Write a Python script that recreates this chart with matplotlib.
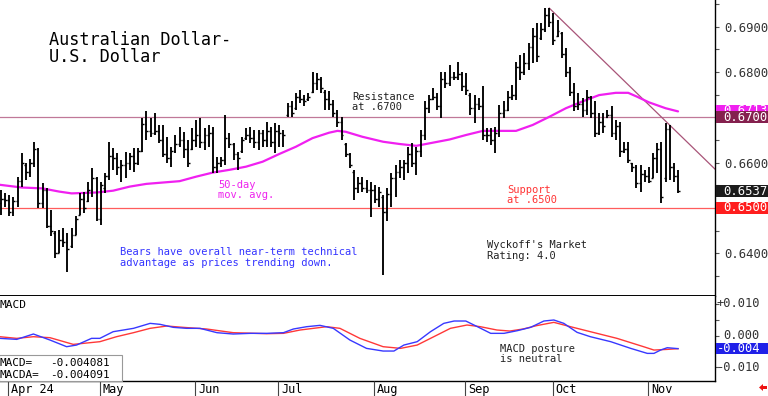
import matplotlib
matplotlib.use("Agg")
import matplotlib.pyplot as plt
import matplotlib.transforms as mtransforms
from matplotlib.patches import Rectangle, Polygon
from matplotlib.ticker import MultipleLocator
import numpy as np
import pandas as pd

W, H = 768, 396
MONO = "DejaVu Sans Mono"

# ---------------- data ----------------
dates = pd.bdate_range("2024-03-28", "2024-11-12")

highs = [
    0.6540, 0.6532, 0.6528, 0.6525, 0.6569, 0.6621, 0.6598, 0.6609, 0.6646, 0.6632,
    0.6554, 0.6543, 0.6495, 0.6448, 0.6451, 0.6455, 0.6444, 0.6455, 0.6481, 0.6532,
    0.6536, 0.6558, 0.6587, 0.6569, 0.6558, 0.6576, 0.6646, 0.6632, 0.6621, 0.6606,
    0.6624, 0.6621, 0.6632, 0.6632, 0.6698, 0.6713, 0.6698, 0.6709, 0.6683, 0.6683,
    0.6657, 0.6635, 0.6661, 0.6679, 0.6668, 0.6650, 0.6676, 0.6694, 0.6698, 0.6676,
    0.6683, 0.6679, 0.6613, 0.6613, 0.6705, 0.6665, 0.6643, 0.6624, 0.6657, 0.6676,
    0.6679, 0.6672, 0.6672, 0.6672, 0.6690, 0.6679, 0.6687, 0.6683, 0.6672, 0.6731,
    0.6735, 0.6753, 0.6760, 0.6749, 0.6753, 0.6801, 0.6797, 0.6790, 0.6760, 0.6757,
    0.6738, 0.6716, 0.6701, 0.6643, 0.6621, 0.6584, 0.6569, 0.6569, 0.6562, 0.6557,
    0.6551, 0.6547, 0.6529, 0.6543, 0.6576, 0.6595, 0.6606, 0.6606, 0.6635, 0.6643,
    0.6635, 0.6672, 0.6735, 0.6749, 0.6764, 0.6753, 0.6801, 0.6801, 0.6816, 0.6801,
    0.6823, 0.6801, 0.6797, 0.6753, 0.6749, 0.6742, 0.6768, 0.6676, 0.6676, 0.6679,
    0.6727, 0.6735, 0.6757, 0.6771, 0.6823, 0.6838, 0.6841, 0.6863, 0.6896, 0.6908,
    0.6908, 0.6941, 0.6941, 0.6930, 0.6915, 0.6889, 0.6852, 0.6812, 0.6775, 0.6753,
    0.6742, 0.6760, 0.6746, 0.6735, 0.6709, 0.6709, 0.6716, 0.6724, 0.6694, 0.6690,
    0.6646, 0.6646, 0.6598, 0.6595, 0.6595, 0.6584, 0.6591, 0.6621, 0.6643, 0.6646,
    0.6687, 0.6683, 0.6598, 0.6584,
]
lows = [
    0.6485, 0.6503, 0.6481, 0.6481, 0.6503, 0.6547, 0.6562, 0.6569, 0.6591, 0.6499,
    0.6499, 0.6455, 0.6437, 0.6389, 0.6400, 0.6414, 0.6359, 0.6411, 0.6440, 0.6484,
    0.6488, 0.6514, 0.6525, 0.6470, 0.6462, 0.6532, 0.6562, 0.6584, 0.6573, 0.6558,
    0.6565, 0.6584, 0.6580, 0.6595, 0.6624, 0.6650, 0.6657, 0.6661, 0.6643, 0.6613,
    0.6598, 0.6591, 0.6621, 0.6635, 0.6610, 0.6591, 0.6628, 0.6635, 0.6632, 0.6628,
    0.6635, 0.6576, 0.6576, 0.6591, 0.6595, 0.6632, 0.6606, 0.6584, 0.6621, 0.6650,
    0.6643, 0.6632, 0.6628, 0.6635, 0.6635, 0.6635, 0.6621, 0.6635, 0.6635, 0.6701,
    0.6701, 0.6716, 0.6731, 0.6724, 0.6735, 0.6753, 0.6760, 0.6753, 0.6716, 0.6716,
    0.6701, 0.6679, 0.6650, 0.6613, 0.6587, 0.6517, 0.6532, 0.6536, 0.6532, 0.6480,
    0.6510, 0.6503, 0.6352, 0.6470, 0.6503, 0.6525, 0.6565, 0.6562, 0.6576, 0.6591,
    0.6573, 0.6613, 0.6650, 0.6709, 0.6738, 0.6716, 0.6698, 0.6764, 0.6768, 0.6782,
    0.6782, 0.6757, 0.6749, 0.6705, 0.6687, 0.6716, 0.6650, 0.6646, 0.6639, 0.6621,
    0.6657, 0.6698, 0.6713, 0.6738, 0.6738, 0.6782, 0.6793, 0.6804, 0.6819, 0.6823,
    0.6871, 0.6889, 0.6900, 0.6860, 0.6878, 0.6830, 0.6790, 0.6746, 0.6713, 0.6716,
    0.6701, 0.6705, 0.6698, 0.6657, 0.6661, 0.6665, 0.6698, 0.6657, 0.6650, 0.6613,
    0.6621, 0.6598, 0.6580, 0.6543, 0.6536, 0.6558, 0.6554, 0.6565, 0.6576, 0.6510,
    0.6558, 0.6562, 0.6558, 0.6532,
]
opens = [
    0.6510, 0.6520, 0.6518, 0.6490, 0.6515, 0.6560, 0.6595, 0.6580, 0.6600, 0.6630,
    0.6510, 0.6540, 0.6460, 0.6445, 0.6400, 0.6430, 0.6425, 0.6415, 0.6440, 0.6485,
    0.6520, 0.6515, 0.6540, 0.6565, 0.6475, 0.6545, 0.6570, 0.6615, 0.6610, 0.6590,
    0.6595, 0.6600, 0.6615, 0.6600, 0.6625, 0.6685, 0.6670, 0.6665, 0.6670, 0.6650,
    0.6620, 0.6610, 0.6625, 0.6640, 0.6650, 0.6630, 0.6630, 0.6650, 0.6660, 0.6645,
    0.6660, 0.6665, 0.6590, 0.6600, 0.6605, 0.6655, 0.6640, 0.6620, 0.6625, 0.6655,
    0.6660, 0.6655, 0.6645, 0.6665, 0.6650, 0.6670, 0.6645, 0.6670, 0.6665, 0.6705,
    0.6725, 0.6720, 0.6745, 0.6740, 0.6740, 0.6755, 0.6775, 0.6785, 0.6755, 0.6740,
    0.6730, 0.6710, 0.6690, 0.6640, 0.6620, 0.6580, 0.6545, 0.6555, 0.6545, 0.6540,
    0.6540, 0.6520, 0.6525, 0.6490, 0.6530, 0.6565, 0.6580, 0.6590, 0.6600, 0.6620,
    0.6600, 0.6625, 0.6660, 0.6720, 0.6740, 0.6745, 0.6725, 0.6785, 0.6775, 0.6790,
    0.6790, 0.6795, 0.6770, 0.6750, 0.6720, 0.6730, 0.6725, 0.6660, 0.6660, 0.6650,
    0.6665, 0.6710, 0.6715, 0.6745, 0.6750, 0.6810, 0.6800, 0.6820, 0.6855, 0.6880,
    0.6875, 0.6895, 0.6925, 0.6910, 0.6880, 0.6885, 0.6840, 0.6800, 0.6755, 0.6725,
    0.6730, 0.6715, 0.6745, 0.6710, 0.6665, 0.6690, 0.6700, 0.6705, 0.6665, 0.6680,
    0.6625, 0.6630, 0.6598, 0.6590, 0.6555, 0.6575, 0.6570, 0.6565, 0.6610, 0.6630,
    0.6565, 0.6675, 0.6590, 0.6570,
]
closes = [
    0.6520, 0.6518, 0.6490, 0.6515, 0.6560, 0.6600, 0.6580, 0.6600, 0.6630, 0.6510,
    0.6540, 0.6460, 0.6450, 0.6400, 0.6430, 0.6425, 0.6410, 0.6440, 0.6475, 0.6520,
    0.6500, 0.6540, 0.6565, 0.6475, 0.6550, 0.6570, 0.6615, 0.6610, 0.6590, 0.6595,
    0.6600, 0.6615, 0.6600, 0.6625, 0.6685, 0.6670, 0.6665, 0.6670, 0.6650, 0.6620,
    0.6610, 0.6625, 0.6640, 0.6650, 0.6630, 0.6600, 0.6650, 0.6660, 0.6645, 0.6660,
    0.6665, 0.6590, 0.6600, 0.6605, 0.6655, 0.6640, 0.6620, 0.6610, 0.6650, 0.6660,
    0.6655, 0.6645, 0.6665, 0.6650, 0.6670, 0.6645, 0.6670, 0.6665, 0.6660, 0.6725,
    0.6710, 0.6745, 0.6740, 0.6735, 0.6745, 0.6775, 0.6785, 0.6765, 0.6740, 0.6730,
    0.6710, 0.6690, 0.6660, 0.6620, 0.6595, 0.6545, 0.6555, 0.6545, 0.6540, 0.6540,
    0.6520, 0.6535, 0.6490, 0.6530, 0.6565, 0.6580, 0.6590, 0.6600, 0.6620, 0.6600,
    0.6625, 0.6660, 0.6720, 0.6740, 0.6745, 0.6725, 0.6785, 0.6775, 0.6790, 0.6790,
    0.6795, 0.6770, 0.6760, 0.6720, 0.6730, 0.6725, 0.6660, 0.6660, 0.6650, 0.6665,
    0.6710, 0.6715, 0.6745, 0.6750, 0.6810, 0.6800, 0.6820, 0.6855, 0.6880, 0.6835,
    0.6895, 0.6925, 0.6910, 0.6870, 0.6890, 0.6840, 0.6800, 0.6755, 0.6725, 0.6730,
    0.6715, 0.6745, 0.6710, 0.6665, 0.6690, 0.6680, 0.6705, 0.6665, 0.6680, 0.6625,
    0.6630, 0.6605, 0.6590, 0.6555, 0.6575, 0.6570, 0.6560, 0.6610, 0.6630, 0.6525,
    0.6675, 0.6590, 0.6570, 0.6537,
]

# 50-day moving average, read at sample bars
ma50_idx = [-0.3, 5, 10, 14, 17, 23, 27, 31, 35, 39, 43, 47, 51, 55, 59, 63, 67, 71,
            75, 79, 81, 83, 87, 92, 96, 100, 104, 108, 112, 116, 120, 124, 128, 132,
            136, 140, 144, 148, 151, 153, 156, 160, 163]
ma50_val = [0.6551, 0.6545, 0.6543, 0.6536, 0.6532, 0.6534, 0.6538, 0.6547, 0.6553,
            0.6556, 0.6559, 0.6569, 0.6578, 0.6584, 0.6591, 0.6602, 0.6619, 0.6635,
            0.6654, 0.6666, 0.6670, 0.6668, 0.6657, 0.6646, 0.6641, 0.6637, 0.6644,
            0.6651, 0.6661, 0.6670, 0.6670, 0.6670, 0.6683, 0.6701, 0.6720, 0.6735,
            0.6749, 0.6754, 0.6754, 0.6746, 0.6733, 0.6720, 0.6713]

# MACD and its signal line (MACDA), read at sample bars
macd_idx = [-0.3, 3.8, 7.8, 11.8, 15.8, 18.2, 21.8, 23.8, 27.0, 31.9, 35.9, 38.3, 41.5,
            44.7, 47.9, 52.0, 55.9, 60.0, 64.0, 68.0, 70.4, 73.6, 76.8, 80.0, 84.0,
            88.0, 92.0, 94.6, 97.0, 100.2, 103.4, 106.6, 109.1, 111.9, 114.7, 117.9,
            121.1, 124.3, 127.5, 130.7, 133.1, 135.5, 138.7, 141.9, 146.8, 151.6,
            155.6, 157.2, 158.8, 160.4, 163.0]
macd_val = [-0.00084, -0.00116, 0.00053, -0.00137, -0.00347, -0.00295, -0.00084,
            -0.00084, 0.00126, 0.00232, 0.00389, 0.00358, 0.00263, 0.00232, 0.00232,
            0.00095, 0.00053, 0.00074, 0.00074, 0.00095, 0.00211, 0.00284, 0.00326,
            0.00232, -0.00137, -0.00400, -0.00484, -0.00484, -0.00295, -0.00189,
            0.00126, 0.00389, 0.00463, 0.00463, 0.00284, 0.00074, 0.00074, 0.00158,
            0.00263, 0.00463, 0.00495, 0.00389, 0.00105, -0.00032, -0.00189,
            -0.00400, -0.00558, -0.00558, -0.00453, -0.00379, -0.004081]
signal_idx = [-0.3, 3.8, 7.8, 11.8, 17.4, 23.8, 27.8, 31.9, 35.9, 39.9, 43.9, 49.5,
              55.9, 64.0, 68.0, 72.0, 78.4, 81.6, 86.4, 92.0, 96.2, 100.2, 104.2,
              108.2, 112.2, 115.4, 119.4, 122.5, 125.7, 128.9, 133.1, 137.1, 141.9,
              148.3, 154.7, 157.2, 160.4, 163.0]
signal_val = [-0.00032, -0.00084, -0.00032, -0.00063, -0.00274, -0.00189, -0.00032,
              0.00095, 0.00232, 0.00305, 0.00263, 0.00211, 0.00095, 0.00063, 0.00074,
              0.00179, 0.00284, 0.00232, -0.00084, -0.00347, -0.00400, -0.00295,
              -0.00032, 0.00232, 0.00337, 0.00284, 0.00179, 0.00147, 0.00211, 0.00316,
              0.00421, 0.00284, 0.00126, -0.00084, -0.00347, -0.00453, -0.00432,
              -0.004091]

support = 0.6500
resistance = 0.6700
trend_idx = [132, 175]
trend_px = [0.6941, 0.6558]

month_labels = ["Apr 24", "May", "Jun", "Jul", "Aug", "Sep", "Oct", "Nov"]
price_ticks = [0.6400, 0.6600, 0.6800, 0.6900]
macd_ticks = [0.010, 0.0, -0.010]
macd_tick_labels = ["+0.010", "0.000", "-0.010"]

# ---------------- figure ----------------
fig = plt.figure(figsize=(W / 100, H / 100), dpi=100)
fig.patch.set_facecolor("white")

def fx(px):
    return px / W

def fy(py):
    return 1 - py / H

ax = fig.add_axes([0, fy(296), fx(715), 296 / H])
axm = fig.add_axes([0, fy(381), fx(715), 85 / H], sharex=ax)
axd = fig.add_axes([0, 0, fx(715), 15 / H], sharex=ax)

idx = np.arange(len(dates))
XL = (-0.24, 171.9)
PY = (0.63055, 0.69589)
MY = (-0.01429, 0.01252)

# ---- price pane ----
ax.vlines(idx, lows, highs, color="black", lw=1.35, zorder=3)
ax.hlines(opens, idx - 0.45, idx, color="black", lw=1.0, zorder=3)
ax.hlines(closes, idx, idx + 0.45, color="black", lw=1.0, zorder=3)
ax.plot(ma50_idx, ma50_val, color="#f020f0", lw=1.6, zorder=2,
        solid_joinstyle="round", solid_capstyle="round")
ax.axhline(resistance, color="#c07898", lw=0.9, zorder=1)
ax.axhline(support, color="#ff5c5c", lw=0.9, zorder=1)
ax.plot(trend_idx, trend_px, color="#a85478", lw=0.9, zorder=1)

ax.set_xlim(*XL)
ax.set_ylim(*PY)
for s in ["left", "top"]:
    ax.spines[s].set_visible(False)
ax.spines["right"].set_linewidth(1.0)
ax.spines["bottom"].set_linewidth(1.4)
ax.yaxis.tick_right()
ax.set_yticks(price_ticks)
ax.set_yticklabels([f"{v:.4f}" for v in price_ticks], fontfamily=MONO,
                   fontsize=8.8, color="#333333")
ax.yaxis.set_minor_locator(MultipleLocator(0.005))
ax.tick_params(axis="y", which="both", direction="out", length=3, width=0.8,
               pad=4, color="#555555")
ax.tick_params(axis="x", which="both", bottom=False, labelbottom=False)

def ftext(x, y, s, **kw):
    kw.setdefault("fontfamily", MONO)
    kw.setdefault("va", "baseline")
    kw.setdefault("ha", "left")
    return fig.text(fx(x), fy(y), s, **kw)

ftext(49, 45, "Australian Dollar-", fontsize=12.2, color="black")
ftext(49, 62.5, "U.S. Dollar", fontsize=12.2, color="black")
ftext(352, 99.5, "Resistance", fontsize=7.5, color="#222222")
ftext(352, 110.5, "at .6700", fontsize=7.5, color="#222222")
ftext(218, 188, "50-day", fontsize=7.5, color="#ee22ee")
ftext(218, 198.5, "mov. avg.", fontsize=7.5, color="#ee22ee")
ftext(120, 255, "Bears have overall near-term technical", fontsize=7.5, color="#3333ff")
ftext(120, 265.5, "advantage as prices trending down.", fontsize=7.5, color="#3333ff")
ftext(507, 192.5, "Support", fontsize=7.5, color="#ff3333")
ftext(507, 203.3, "at .6500", fontsize=7.5, color="#ff3333")
ftext(487, 248.3, "Wyckoff's Market", fontsize=7.5, color="#222222")
ftext(487, 259, "Rating: 4.0", fontsize=7.5, color="#222222")

# right-hand value boxes for the price pane
btr = mtransforms.blended_transform_factory(fig.transFigure, ax.transData)
ph = 12 / (296 / (PY[1] - PY[0]))  # 12 px in price units

def price_box(val, face, text, z, clip_top_of=None):
    r = Rectangle((fx(715.5), val - ph / 2), fx(768) - fx(715.5), ph,
                  transform=btr, facecolor=face, edgecolor="none", zorder=z,
                  clip_on=False)
    fig.add_artist(r)
    t = fig.text(fx(723), val, text, transform=btr, fontfamily=MONO, fontsize=8.8,
                 color="white", va="center", ha="left", zorder=z + 0.5)
    if clip_top_of is not None:
        bb = mtransforms.TransformedBbox(
            mtransforms.Bbox([[fx(715.5), clip_top_of + ph / 2], [fx(768), val + ph]]),
            btr)
        t.set_clip_box(bb)
        t.set_clip_on(True)

ma_last = ma50_val[-1]
price_box(ma_last + 0.0001, "#f020f0", f"{ma_last:.4f}", 5, clip_top_of=resistance)
price_box(resistance, "#84204e", f"{resistance:.4f}", 7)
price_box(closes[-1], "#1c1c1c", f"{closes[-1]:.4f}", 5)
price_box(support, "#ff1e1e", f"{support:.4f}", 5)

# ---- MACD pane ----
axm.plot(signal_idx, signal_val, color="#ff3838", lw=1.0, zorder=2)
axm.plot(macd_idx, macd_val, color="#3838ff", lw=1.0, zorder=3)
axm.set_xlim(*XL)
axm.set_ylim(*MY)
axm.spines["left"].set_visible(False)
axm.spines["top"].set_visible(False)
axm.spines["right"].set_linewidth(1.0)
axm.spines["bottom"].set_linewidth(1.0)
axm.yaxis.tick_right()
axm.set_yticks(macd_ticks)
axm.set_yticklabels([])
axm.yaxis.set_minor_locator(MultipleLocator(0.005))
axm.tick_params(axis="y", which="both", direction="out", length=3, width=0.8,
                color="#555555")
axm.tick_params(axis="x", which="both", bottom=False, labelbottom=False)

btm = mtransforms.blended_transform_factory(fig.transFigure, axm.transData)
for v, lab in zip(macd_ticks, macd_tick_labels):
    fig.text(fx(760), v, lab, transform=btm, fontfamily=MONO, fontsize=8.7,
             color="#333333", va="center", ha="right")

mh = 11 / (85 / (MY[1] - MY[0]))
m_last = macd_val[-1]
fig.add_artist(Rectangle((fx(715.5), m_last - mh / 2), fx(768) - fx(715.5), mh,
                         transform=btm, facecolor="#2020e8", edgecolor="none",
                         zorder=5, clip_on=False))
fig.text(fx(760), m_last, f"{m_last:.3f}", transform=btm, fontfamily=MONO,
         fontsize=8.7, color="white", va="center", ha="right", zorder=6)

ftext(0, 307.5, "MACD", fontsize=8.0, color="black")
ftext(500, 352, "MACD posture", fontsize=7.5, color="#222222")
ftext(500, 362, "is neutral", fontsize=7.5, color="#222222")

fig.add_artist(Rectangle((fx(-1), fy(381)), fx(123), 26 / H, transform=fig.transFigure,
                         facecolor="white", edgecolor="#999999", lw=0.8, zorder=4))
ftext(0, 366.3, "MACD=", fontsize=7.9, color="black", zorder=5)
ftext(50, 366.3, f"{macd_val[-1]:.6f}", fontsize=7.9, color="black", zorder=5)
ftext(0, 377.5, "MACDA=", fontsize=7.9, color="black", zorder=5)
ftext(50, 377.5, f"{signal_val[-1]:.6f}", fontsize=7.9, color="black", zorder=5)

# ---- date strip ----
axd.set_xlim(*XL)
axd.set_ylim(0, 1)
axd.axis("off")
mon = np.asarray(dates.month)
starts = [i for i in range(1, len(dates)) if mon[i] != mon[i - 1]]
for i, lab in zip(starts, month_labels):
    axd.vlines(i - 0.2, 0, 1, color="#444444", lw=0.8)
    axd.text(i + 0.5, 0.22, lab, fontfamily=MONO, fontsize=8.6, color="black",
             ha="left", va="baseline")

# small red arrow at bottom right
fig.add_artist(Polygon([(fx(759), fy(387.5)), (fx(763), fy(384)), (fx(763), fy(386)),
                        (fx(767), fy(386)), (fx(767), fy(389)), (fx(763), fy(389)),
                        (fx(763), fy(391))], closed=True, transform=fig.transFigure,
                       facecolor="#ee1111", edgecolor="none"))

fig.savefig("out.png", dpi=100, facecolor="white")
